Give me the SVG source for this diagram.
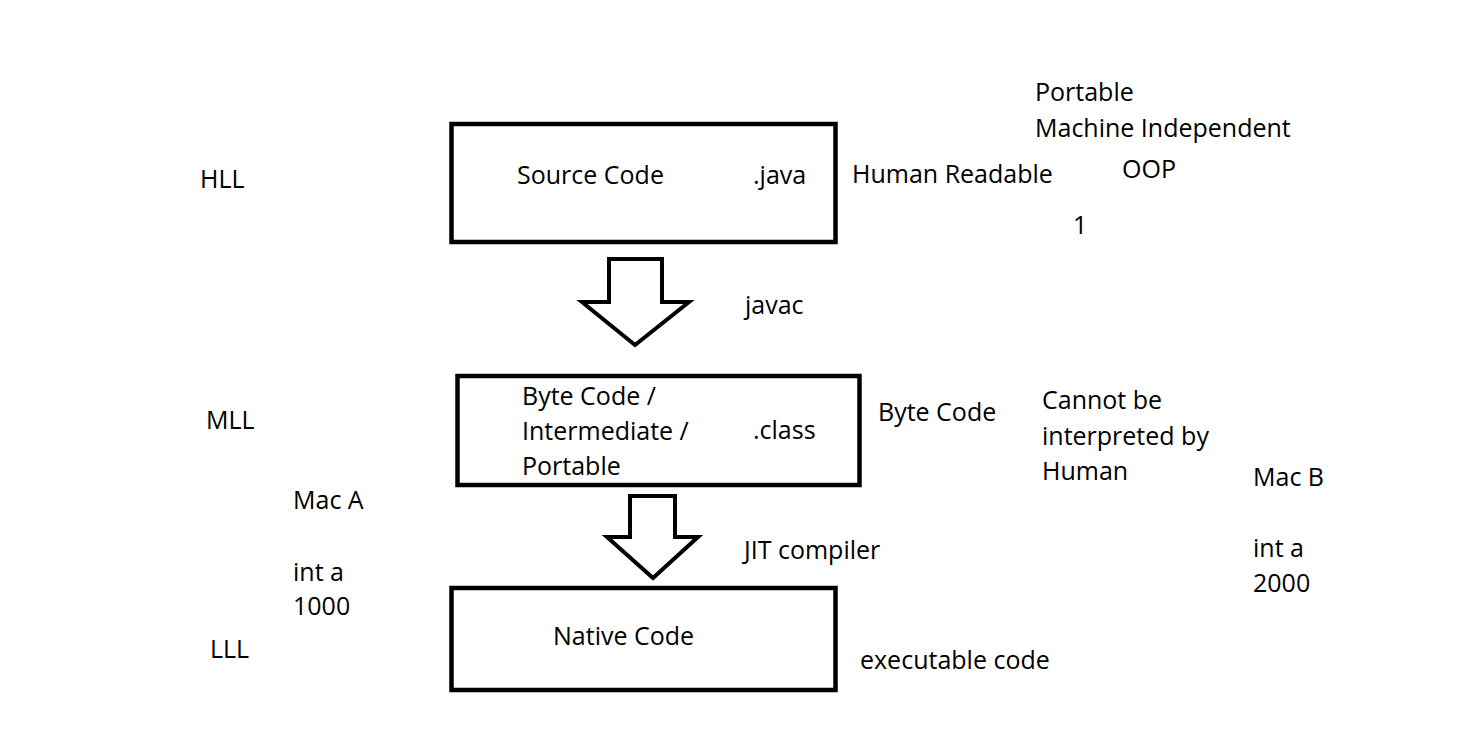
<svg xmlns="http://www.w3.org/2000/svg" width="1468" height="742" viewBox="0 0 1468 742">
<style>
text{font-family:"Open Sans","Noto Sans",sans-serif;font-size:25px;fill:#000}
.box{fill:#fff;stroke:#000;stroke-width:4.5}
.arr{fill:#fff;stroke:#000;stroke-width:4;stroke-linejoin:miter}
</style>
<rect width="1468" height="742" fill="#fff"/>
<g id="source">
<rect class="box" x="451.5" y="124" width="384" height="118"/>
<text x="517" y="184">Source Code</text>
<text x="753" y="184">.java</text>
</g>
<g id="bytecode">
<rect class="box" x="457.5" y="376" width="402" height="109"/>
<text x="522" y="405">Byte Code /</text>
<text x="522" y="440">Intermediate /</text>
<text x="522" y="475">Portable</text>
<text x="753" y="439">.class</text>
</g>
<g id="native">
<rect class="box" x="451.5" y="588" width="384" height="102"/>
<text x="553" y="645">Native Code</text>
</g>
<g id="connectors">
<polygon class="arr" points="609,259 662,259 662,302 689,302 635,345 582,302 609,302"/>
<polygon class="arr" points="630,496 675,496 675,537 698,537 653,578 607,537 630,537"/>
</g>
<g id="labels">
<text x="200" y="188">HLL</text>
<text x="852" y="183">Human Readable</text>
<text x="1035" y="101">Portable</text>
<text x="1035" y="137">Machine Independent</text>
<text x="1122" y="178">OOP</text>
<text x="1073" y="234">1</text>
<text x="745" y="314">javac</text>
<text x="206" y="429">MLL</text>
<text x="878" y="421">Byte Code</text>
<text x="1042" y="409">Cannot be</text>
<text x="1042" y="445">interpreted by</text>
<text x="1042" y="480">Human</text>
<text x="1253" y="486">Mac B</text>
<text x="293" y="509">Mac A</text>
<text x="293" y="581">int a</text>
<text x="293" y="615">1000</text>
<text x="744" y="559">JIT compiler</text>
<text x="1253" y="557">int a</text>
<text x="1253" y="592">2000</text>
<text x="210" y="658">LLL</text>
<text x="860" y="669">executable code</text>
</g>
</svg>
